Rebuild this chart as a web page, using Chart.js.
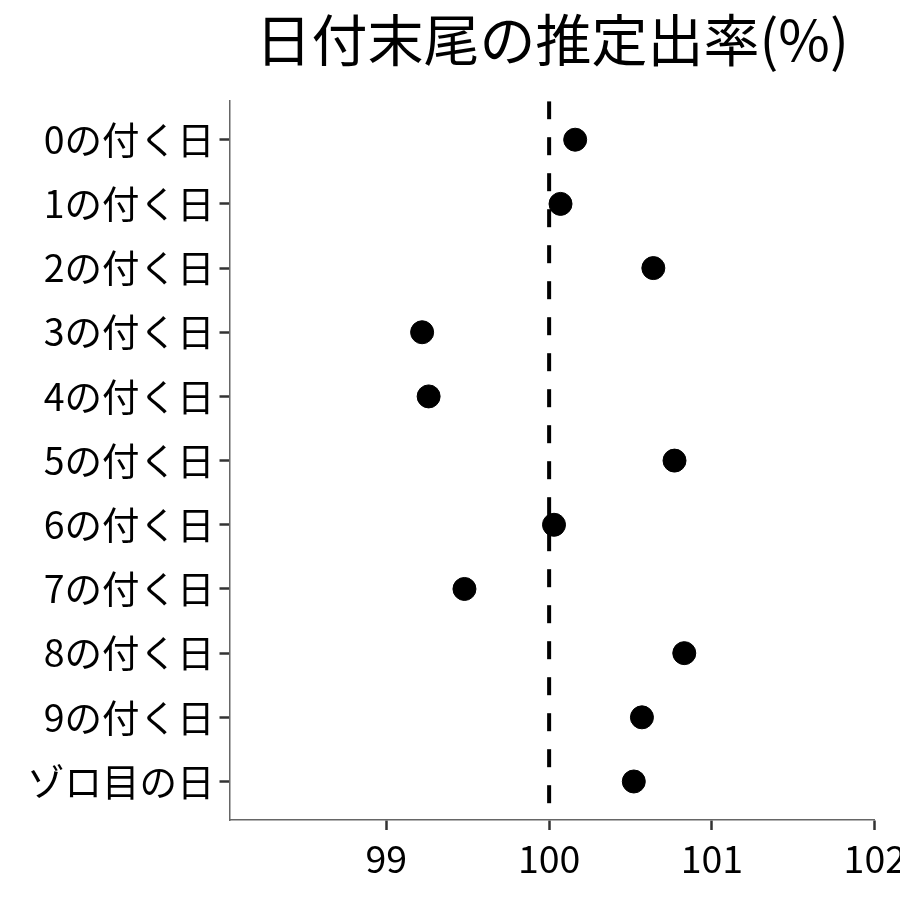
<!DOCTYPE html>
<html>
<head>
<meta charset="utf-8">
<script src="https://cdn.jsdelivr.net/npm/chart.js@4"></script>
<style>
  html, body { margin: 0; padding: 0; background: #fff; overflow: hidden; }
  #wrap { width: 912px; height: 900px; }
</style>
</head>
<body>
<div id="wrap"><canvas id="chart-dots"></canvas></div>
<script>
// data
var categories = ["0の付く日", "1の付く日", "2の付く日", "3の付く日", "4の付く日", "5の付く日",
    "6の付く日", "7の付く日", "8の付く日", "9の付く日", "ゾロ目の日"];
var rates = [100.16, 100.07, 100.64, 99.22, 99.26, 100.77, 100.03, 99.48, 100.83, 100.57, 100.52];
var xTicks = [99, 100, 101, 102];
var baseline = 100;

var fontFamily = "'Noto Sans CJK JP', 'Noto Sans', sans-serif";

var ctx = document.getElementById("chart-dots").getContext("2d");

new Chart(ctx, {
    type: "scatter",
    data: {
        datasets: [{
            type: "line",
            data: [{ x: baseline, y: -0.6 }, { x: baseline, y: categories.length - 0.4 }],
            borderColor: "#000",
            borderWidth: 4,
            borderDash: [18, 18],
            pointRadius: 0,
            fill: false
        }, {
            data: rates.map(function (v, i) { return { x: v, y: i }; }),
            backgroundColor: "#000",
            borderColor: "#000",
            pointRadius: 11.5,
            pointHoverRadius: 11.5
        }]
    },
    options: {
        responsive: true,
        maintainAspectRatio: false,
        animation: false,
        layout: {
            padding: { left: 22, right: 0, top: 0, bottom: 13 }
        },
        plugins: {
            legend: { display: false },
            tooltip: { enabled: false },
            title: {
                display: true,
                text: "日付末尾の推定出率(%)",
                fullSize: false,
                color: "#000",
                font: { size: 56, family: fontFamily, weight: "normal" },
                padding: { top: 6, bottom: 28 }
            }
        },
        scales: {
            x: {
                type: "linear",
                min: 98.037,
                max: 102,
                afterBuildTicks: function (scale) {
                    scale.ticks = xTicks.map(function (v) { return { value: v }; });
                },
                grid: {
                    display: true,
                    drawOnChartArea: false,
                    drawTicks: true,
                    tickLength: 10,
                    tickColor: "#333",
                    tickWidth: 2.5
                },
                border: { display: true, color: "#666", width: 1.5 },
                ticks: {
                    color: "#000",
                    padding: 6,
                    maxRotation: 0,
                    font: { size: 37.5, family: fontFamily }
                }
            },
            y: {
                type: "linear",
                reverse: true,
                min: -0.6,
                max: categories.length - 0.4,
                afterBuildTicks: function (scale) {
                    scale.ticks = categories.map(function (c, i) { return { value: i }; });
                },
                grid: {
                    display: true,
                    drawOnChartArea: false,
                    drawTicks: true,
                    tickLength: 10,
                    tickColor: "#333",
                    tickWidth: 2.5
                },
                border: { display: true, color: "#666", width: 1.5 },
                ticks: {
                    color: "#000",
                    padding: 5,
                    font: { size: 37.5, family: fontFamily },
                    callback: function (v) { return categories[v]; }
                }
            }
        }
    }
});
</script>
</body>
</html>
